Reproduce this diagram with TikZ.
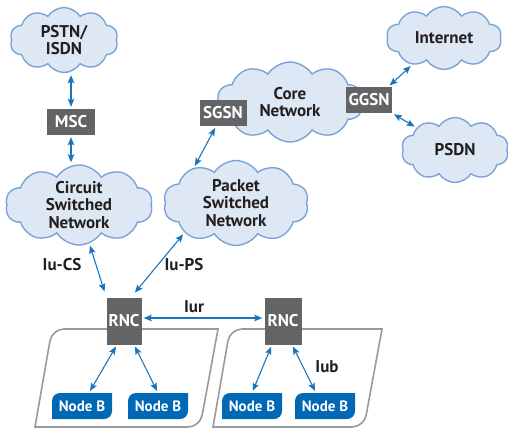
\documentclass[tikz,border=0pt]{standalone}
\usepackage{fontspec}
\setmainfont{PT Sans}
\usepackage{tikz}
\usetikzlibrary{arrows.meta}
\usetikzlibrary{shapes.symbols}

\definecolor{cloudfill}{HTML}{DEE8F5}
\definecolor{cloudline}{HTML}{7BA3D8}
\definecolor{boxgray}{HTML}{636466}
\definecolor{nodeblue}{HTML}{0068B5}
\definecolor{linkblue}{HTML}{1A75BF}
\definecolor{panelgray}{HTML}{9A9A9A}
\definecolor{txt}{HTML}{231F20}

\begin{document}
\begin{tikzpicture}[x=1pt,y=-1pt,
    cloudnet/.style={cloud, cloud puffs=10, cloud puff arc=115, cloud ignores aspect,
        fill=cloudfill, draw=cloudline, line width=1.4pt, align=center, text=txt,
        font=\bfseries\fontsize{17}{17.5}\selectfont, inner sep=0pt},
    netbox/.style={fill=boxgray, text=white, font=\bfseries\fontsize{17}{17}\selectfont, inner sep=0pt},
    nodeb/.style={text=white, font=\bfseries\fontsize{15}{15}\selectfont,
        minimum width=60, minimum height=26, inner sep=0pt},
    link/.style={draw=linkblue, line width=1.1pt, {Stealth[length=8pt,width=6.5pt,inset=1.5pt]}-{Stealth[length=8pt,width=6.5pt,inset=1.5pt]},
        shorten <=2pt, shorten >=2pt},
    panel/.style={draw=panelgray, line width=1.6pt},
    lbl/.style={text=txt, font=\bfseries\fontsize{17}{17}\selectfont, anchor=base}]
    \useasboundingbox (0,0) rectangle (508,429);

    % clouds
    \node[cloudnet, minimum width=108, minimum height=65] (pstn) at (64,40) {PSTN/\\ISDN};
    \node[cloudnet, minimum width=147, minimum height=80] (csn) at (79,205) {Circuit\\Switched\\Network};
    \node[cloudnet, minimum width=145, minimum height=85] (psn) at (236,203) {Packet\\Switched\\Network};
    \node[cloudnet, minimum width=146, minimum height=80] (core) at (290,102) {Core\\Network};
    \node[cloudnet, minimum width=115, minimum height=63] (inet) at (444,38) {Internet};
    \node[cloudnet, minimum width=107, minimum height=65] (psdn) at (455,150) {PSDN};

    % radio network subsystems
    \draw[panel] (35,427) [rounded corners=12pt] -- (52,329) [sharp corners] -- (218,329)
        [rounded corners=12pt] -- (200,427) [sharp corners] -- cycle;
    \draw[panel] (213,427) [rounded corners=12pt] -- (230,329) [sharp corners] -- (382,329)
        [rounded corners=12pt] -- (364,427) [sharp corners] -- cycle;

    % gray boxes
    \node[netbox, minimum width=48, minimum height=26] (msc) at (71,122) {MSC};
    \node[netbox, minimum width=47, minimum height=26] (sgsn) at (223,113) {SGSN};
    \node[netbox, minimum width=46, minimum height=26] (ggsn) at (369,100) {GGSN};
    \node[netbox, minimum width=35, minimum height=47] (rnc1) at (124,321) {RNC};
    \node[netbox, minimum width=37, minimum height=47] (rnc2) at (283,321) {RNC};

    % base stations
    \foreach \nb/\cx in {nb1/82,nb2/158,nb3/252,nb4/325}{
        \fill[nodeblue] (\cx-30,419) [rounded corners=8pt] -- (\cx-30,393) [sharp corners] -- (\cx+30,393)
            [rounded corners=8pt] -- (\cx+30,419) [sharp corners] -- cycle;
        \node[nodeb] (\nb) at (\cx,406) {Node B};
    }

    % links
    \draw[link] (pstn.south -| msc.north) -- (msc.north);
    \draw[link] (msc.south) -- (msc.south |- csn.north);
    \draw[link] ([xshift=-7pt]sgsn.south) -- (psn.140);
    \draw[link] ([xshift=-4pt]ggsn.north east) -- (inet.220);
    \draw[link] (ggsn.south east) -- (psdn.150);
    \draw[link, shorten >=6pt] (csn.-75) -- (rnc1.north west);
    \draw[link, shorten >=6pt] (psn.210) -- ([xshift=7pt]rnc1.north);
    \draw[link] ([yshift=3pt]rnc1.east) -- ([yshift=3pt]rnc2.west);
    \draw[link] ([xshift=-7pt]rnc1.south) -- ([xshift=7pt]nb1.north);
    \draw[link] ([xshift=10pt]rnc1.south) -- (nb2.north);
    \draw[link] ([xshift=-11pt]rnc2.south) -- (nb3.north);
    \draw[link] ([xshift=9pt]rnc2.south) -- ([xshift=-9pt]nb4.north);

    % interface labels
    \node[lbl] (iucs) at (62,270) {Iu-CS};
    \node[lbl] (iups) at (184,270) {Iu-PS};
    \node[lbl] (iur) at (194,312) {Iur};
    \node[lbl] (iub) at (327,372) {Iub};
\end{tikzpicture}
\end{document}
